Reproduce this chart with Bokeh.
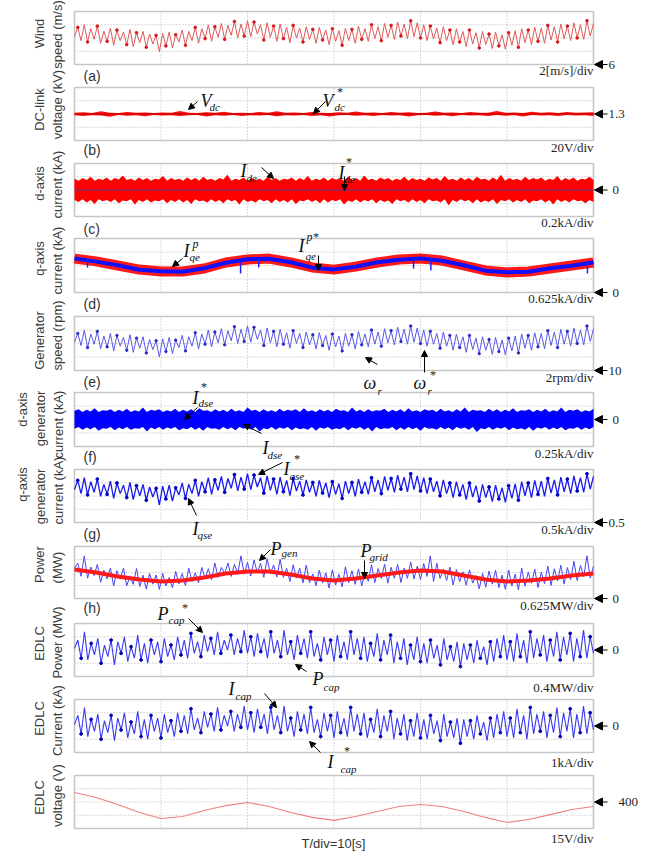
import math
import numpy as np
from bokeh.plotting import figure
from bokeh.models import Range1d, Label, Arrow, NormalHead
from bokeh.embed import file_html
from bokeh.resources import INLINE

# ---------------------------------------------------------------- data
T_END = 60.0  # s (T/div = 10 s, 6 divisions)

wind_speed = [10.2, 11.6, 9.6, 12.0, 9.4, 11.4, 9.8, 11.8, 9.2, 11.0, 9.5, 11.5, 8.9, 11.2, 9.6, 10.9, 9.0, 11.3, 8.7, 10.8, 9.3, 11.0, 8.6, 10.6, 9.1, 10.4, 7.9,
              10.7, 8.8, 10.9, 8.5, 10.5, 9.4, 11.2, 8.9, 11.0, 9.6, 11.6, 9.2, 11.4, 9.9, 12.0, 9.5, 11.7, 10.1, 12.2, 9.8, 11.9, 10.4, 12.5, 10.0, 12.1, 10.3, 12.6,
              10.2, 12.4, 10.6, 12.0, 9.7, 12.3, 10.1, 11.8, 9.5, 12.1, 9.9, 11.6, 9.3, 11.9, 10.0, 11.5, 9.4, 11.7, 9.8, 11.3, 9.2, 11.6, 9.7, 11.2, 9.0, 11.4, 9.5,
              11.1, 8.9, 11.5, 9.6, 11.3, 9.2, 11.8, 9.8, 11.4, 9.5, 12.0, 9.9, 11.7, 9.6, 12.2, 10.1, 11.9, 9.8, 12.4, 10.3, 12.1, 9.9, 12.6, 10.2, 12.3, 10.0,
              12.0, 9.6, 11.8, 9.9, 11.5, 9.3, 11.7, 9.6, 11.2, 9.0, 11.4, 9.4, 11.0, 8.7, 11.2, 9.1, 10.8, 8.5, 11.0, 9.0, 10.6, 8.4, 10.9, 8.8, 10.5, 8.3, 10.8,
              8.9, 11.1, 8.6, 11.4, 9.3, 11.2, 9.0, 11.6, 9.5, 11.5, 9.2, 11.9, 9.7, 11.7, 9.4, 12.1, 9.9, 11.8, 9.6, 12.3, 10.0, 12.0, 9.8, 12.6, 10.3, 12.2]

vdc_hi = [1.3018, 1.3026, 1.3016, 1.3040, 1.3019, 1.3015, 1.3032, 1.3018, 1.3024, 1.3016, 1.3021, 1.3017, 1.3044, 1.3018, 1.3015, 1.3027, 1.3019, 1.3033, 1.3016, 1.3020,
          1.3015, 1.3030, 1.3018, 1.3042, 1.3017, 1.3022, 1.3016, 1.3031, 1.3019, 1.3015, 1.3028, 1.3018, 1.3038, 1.3017, 1.3021, 1.3015, 1.3032, 1.3018, 1.3025, 1.3015,
          1.3020, 1.3036, 1.3017, 1.3023, 1.3016, 1.3030, 1.3019, 1.3017, 1.3046, 1.3018, 1.3022, 1.3015, 1.3033, 1.3019, 1.3026, 1.3016, 1.3031, 1.3018, 1.3023, 1.3028]
vdc_lo = [1.2982, 1.2971, 1.2983, 1.2977, 1.2960, 1.2984, 1.2974, 1.2982, 1.2965, 1.2984, 1.2978, 1.2983, 1.2970, 1.2981, 1.2985, 1.2962, 1.2982, 1.2975, 1.2984, 1.2968,
          1.2983, 1.2977, 1.2984, 1.2966, 1.2982, 1.2976, 1.2984, 1.2971, 1.2983, 1.2963, 1.2980, 1.2984, 1.2973, 1.2982, 1.2969, 1.2984, 1.2977, 1.2983, 1.2961, 1.2981,
          1.2984, 1.2972, 1.2982, 1.2967, 1.2984, 1.2978, 1.2983, 1.2970, 1.2984, 1.2975, 1.2982, 1.2964, 1.2984, 1.2977, 1.2981, 1.2969, 1.2984, 1.2976, 1.2983, 1.2971]
vdc_ref = 1.3

ide_hi = [0.17, 0.14, 0.18, 0.15, 0.20, 0.14, 0.17, 0.15, 0.19, 0.14, 0.18, 0.16, 0.22, 0.15, 0.17, 0.14, 0.19, 0.15, 0.18, 0.14, 0.17, 0.16, 0.21, 0.14, 0.18, 0.15, 0.17, 0.14, 0.19, 0.15,
          0.18, 0.14, 0.20, 0.15, 0.17, 0.14, 0.18, 0.16, 0.23, 0.14, 0.17, 0.15, 0.19, 0.14, 0.18, 0.15, 0.17, 0.14, 0.20, 0.15, 0.18, 0.14, 0.17, 0.16, 0.19, 0.14, 0.18, 0.15, 0.21, 0.14,
          0.17, 0.15, 0.19, 0.14, 0.18, 0.16, 0.17, 0.14, 0.20, 0.15, 0.18, 0.14, 0.22, 0.15, 0.17, 0.14, 0.19, 0.16, 0.18, 0.14, 0.17, 0.15, 0.20, 0.14, 0.18, 0.15, 0.17, 0.14, 0.19, 0.16,
          0.18, 0.14, 0.21, 0.15, 0.17, 0.14, 0.19, 0.15, 0.18, 0.14, 0.20, 0.16, 0.17, 0.14, 0.19, 0.15, 0.23, 0.14, 0.18, 0.15, 0.17, 0.14, 0.20, 0.15, 0.18, 0.16, 0.19, 0.14, 0.17, 0.15,
          0.21, 0.14, 0.18, 0.15, 0.19, 0.14, 0.17, 0.16, 0.20, 0.15]
ide_lo = [-0.15, -0.18, -0.14, -0.19, -0.15, -0.21, -0.14, -0.17, -0.15, -0.18, -0.14, -0.20, -0.16, -0.17, -0.14, -0.22, -0.15, -0.18, -0.14, -0.19, -0.16, -0.17, -0.14, -0.20, -0.15, -0.18, -0.14, -0.19, -0.15, -0.21,
          -0.14, -0.17, -0.16, -0.19, -0.14, -0.18, -0.15, -0.20, -0.14, -0.17, -0.15, -0.22, -0.14, -0.18, -0.16, -0.19, -0.14, -0.17, -0.15, -0.20, -0.14, -0.18, -0.15, -0.19, -0.14, -0.21, -0.16, -0.17, -0.14, -0.18,
          -0.15, -0.20, -0.14, -0.19, -0.15, -0.17, -0.14, -0.22, -0.16, -0.18, -0.14, -0.19, -0.15, -0.17, -0.14, -0.20, -0.15, -0.18, -0.16, -0.21, -0.14, -0.17, -0.15, -0.19, -0.14, -0.18, -0.15, -0.20, -0.14, -0.17,
          -0.16, -0.19, -0.14, -0.23, -0.15, -0.18, -0.14, -0.17, -0.15, -0.20, -0.14, -0.19, -0.16, -0.18, -0.14, -0.21, -0.15, -0.17, -0.14, -0.19, -0.15, -0.18, -0.14, -0.20, -0.16, -0.17, -0.14, -0.19, -0.15, -0.22,
          -0.14, -0.18, -0.15, -0.19, -0.14, -0.17, -0.16, -0.20, -0.15, -0.18]
ide_ref = 0.0

iqe_ref = [1.57, 1.44, 1.25, 1.06, 0.97, 0.97, 1.11, 1.39, 1.53, 1.57, 1.39, 1.16, 1.06, 1.20, 1.39, 1.53, 1.57, 1.48, 1.25, 1.02, 0.93, 0.97, 1.11, 1.25, 1.39]
iqe_meas = [1.58, 1.43, 1.26, 1.05, 0.98, 0.96, 1.12, 1.38, 1.54, 1.56, 1.40, 1.15, 1.07, 1.19, 1.40, 1.52, 1.58, 1.47, 1.26, 1.01, 0.94, 0.96, 1.12, 1.24, 1.40]
iqe_spike_t = [1.5, 19.2, 21.3, 39.2, 41.2, 59.3]
iqe_spike_top = [1.55, 1.39, 1.57, 1.48, 1.57, 1.36]
iqe_spike_bot = [1.16, 0.88, 1.16, 1.11, 1.02, 0.88]

gen_speed = [14.2, 15.5, 13.7, 16.0, 13.4, 15.4, 13.9, 15.8, 13.2, 15.1, 13.5, 15.5, 12.9, 15.2, 13.6, 14.9, 13.0, 15.3, 12.7, 14.8, 13.3, 15.0, 12.6, 14.6, 13.1, 14.4, 12.0,
             14.7, 12.8, 14.9, 12.5, 14.5, 13.4, 15.2, 12.9, 15.0, 13.6, 15.6, 13.2, 15.4, 13.9, 16.0, 13.5, 15.7, 14.1, 16.2, 13.8, 15.9, 14.4, 16.5, 14.0, 16.1, 14.3, 16.6,
             14.2, 16.4, 14.6, 16.0, 13.7, 16.3, 14.1, 15.8, 13.5, 16.1, 13.9, 15.6, 13.3, 15.9, 14.0, 15.5, 13.4, 15.7, 13.8, 15.3, 13.2, 15.6, 13.7, 15.2, 13.0, 15.4, 13.5,
             15.1, 12.9, 15.5, 13.6, 15.3, 13.2, 15.8, 13.8, 15.4, 13.5, 16.0, 13.9, 15.7, 13.6, 16.2, 14.1, 15.9, 13.8, 16.4, 14.3, 16.1, 13.9, 16.6, 14.2, 16.3, 14.0,
             16.0, 13.6, 15.8, 13.9, 15.5, 13.3, 15.7, 13.6, 15.2, 13.0, 15.4, 13.4, 15.0, 12.7, 15.2, 13.1, 14.8, 12.5, 15.0, 13.0, 14.6, 12.4, 14.9, 12.8, 14.5, 12.3, 14.8,
             12.9, 15.1, 12.6, 15.4, 13.3, 15.2, 13.0, 15.6, 13.5, 15.5, 13.2, 15.9, 13.7, 15.7, 13.4, 16.1, 13.9, 15.8, 13.6, 16.3, 14.0, 16.0, 13.8, 16.6, 14.3, 16.2]

idse_hi = [0.16, 0.19, 0.14, 0.18, 0.15, 0.21, 0.14, 0.17, 0.16, 0.19, 0.14, 0.18, 0.15, 0.20, 0.14, 0.17, 0.15, 0.22, 0.14, 0.18, 0.16, 0.19, 0.14, 0.17, 0.15, 0.20, 0.14, 0.18, 0.15, 0.19,
           0.14, 0.21, 0.16, 0.17, 0.14, 0.19, 0.15, 0.18, 0.14, 0.20, 0.15, 0.17, 0.14, 0.22, 0.16, 0.18, 0.14, 0.19, 0.15, 0.17, 0.14, 0.20, 0.15, 0.18, 0.16, 0.19, 0.14, 0.21, 0.15, 0.17,
           0.14, 0.19, 0.15, 0.18, 0.14, 0.20, 0.16, 0.17, 0.14, 0.22, 0.15, 0.18, 0.14, 0.19, 0.15, 0.17, 0.16, 0.20, 0.14, 0.18, 0.15, 0.19, 0.14, 0.21, 0.15, 0.17, 0.14, 0.19, 0.16, 0.18,
           0.14, 0.20, 0.15, 0.17, 0.14, 0.19, 0.15, 0.22, 0.14, 0.18, 0.16, 0.17, 0.14, 0.20, 0.15, 0.19, 0.14, 0.18, 0.15, 0.21, 0.14, 0.17, 0.16, 0.19, 0.14, 0.18, 0.15, 0.20, 0.14, 0.17,
           0.15, 0.22, 0.14, 0.18, 0.16, 0.19, 0.14, 0.17, 0.15, 0.20]
idse_lo = [-0.17, -0.14, -0.19, -0.15, -0.18, -0.14, -0.21, -0.16, -0.17, -0.14, -0.20, -0.15, -0.18, -0.14, -0.19, -0.16, -0.17, -0.14, -0.22, -0.15, -0.18, -0.14, -0.19, -0.15, -0.17, -0.14, -0.20, -0.16, -0.18, -0.14,
           -0.19, -0.15, -0.21, -0.14, -0.17, -0.16, -0.19, -0.14, -0.18, -0.15, -0.20, -0.14, -0.17, -0.15, -0.19, -0.14, -0.22, -0.16, -0.18, -0.14, -0.19, -0.15, -0.17, -0.14, -0.20, -0.15, -0.18, -0.16, -0.19, -0.14,
           -0.21, -0.15, -0.17, -0.14, -0.19, -0.16, -0.18, -0.14, -0.20, -0.15, -0.17, -0.14, -0.19, -0.15, -0.22, -0.14, -0.18, -0.16, -0.17, -0.14, -0.20, -0.15, -0.19, -0.14, -0.18, -0.15, -0.21, -0.14, -0.17, -0.16,
           -0.19, -0.14, -0.18, -0.15, -0.20, -0.14, -0.17, -0.15, -0.19, -0.14, -0.23, -0.16, -0.18, -0.14, -0.19, -0.15, -0.17, -0.14, -0.20, -0.15, -0.18, -0.16, -0.19, -0.14, -0.21, -0.15, -0.17, -0.14, -0.19, -0.15,
           -0.18, -0.14, -0.20, -0.16, -0.17, -0.14, -0.19, -0.15, -0.18, -0.14]

iqse = [1.74, 2.09, 1.59, 2.19, 1.54, 2.04, 1.64, 2.14, 1.49, 1.94, 1.56, 2.06, 1.41, 1.99, 1.59, 1.91, 1.44, 2.01, 1.36, 1.89, 1.51, 1.94, 1.34, 1.84, 1.46, 1.79, 1.16,
        1.87, 1.39, 1.91, 1.31, 1.81, 1.54, 1.99, 1.41, 1.94, 1.59, 2.09, 1.49, 2.04, 1.66, 2.19, 1.56, 2.11, 1.71, 2.24, 1.64, 2.16, 1.79, 2.31, 1.69, 2.21, 1.76, 2.34,
        1.74, 2.29, 1.84, 2.19, 1.61, 2.26, 1.71, 2.14, 1.56, 2.21, 1.66, 2.09, 1.51, 2.16, 1.69, 2.06, 1.54, 2.11, 1.64, 2.01, 1.49, 2.09, 1.61, 1.99, 1.44, 2.04, 1.56,
        1.96, 1.41, 2.06, 1.59, 2.01, 1.49, 2.14, 1.64, 2.04, 1.56, 2.19, 1.66, 2.11, 1.59, 2.24, 1.71, 2.16, 1.64, 2.29, 1.76, 2.21, 1.66, 2.34, 1.74, 2.26, 1.69,
        2.19, 1.59, 2.14, 1.66, 2.06, 1.51, 2.11, 1.59, 1.99, 1.44, 2.04, 1.54, 1.94, 1.36, 1.99, 1.46, 1.89, 1.31, 1.94, 1.44, 1.84, 1.29, 1.91, 1.39, 1.81, 1.26, 1.89,
        1.41, 1.96, 1.34, 2.04, 1.51, 1.99, 1.44, 2.09, 1.56, 2.06, 1.49, 2.16, 1.61, 2.11, 1.54, 2.21, 1.66, 2.14, 1.59, 2.26, 1.69, 2.19, 1.64, 2.34, 1.76, 2.24]

p_gen = [1.45, 1.70, 1.07, 2.05, 0.98, 1.51, 1.10, 1.64, 0.78, 1.36, 0.94, 1.46, 0.60, 1.34, 0.93, 1.46, 0.61, 1.09, 0.68, 1.44, 0.58, 1.12, 0.45, 1.20, 0.69, 1.13, 0.44,
         1.21, 0.61, 1.01, 0.52, 1.30, 0.70, 1.20, 0.61, 1.46, 0.82, 1.23, 0.75, 1.49, 0.95, 1.43, 0.90, 1.71, 1.02, 1.49, 1.19, 1.71, 1.06, 1.64, 1.20, 2.05, 1.17, 1.74,
         1.08, 1.85, 1.24, 1.69, 1.02, 1.91, 1.19, 1.61, 1.03, 1.88, 1.02, 1.45, 0.82, 1.62, 0.98, 1.45, 0.75, 1.61, 0.76, 1.18, 0.61, 1.36, 0.74, 1.23, 0.50, 1.38, 0.65,
         1.16, 0.56, 1.52, 0.76, 1.33, 0.68, 1.42, 0.61, 1.24, 0.83, 1.62, 0.76, 1.44, 0.96, 1.65, 0.74, 1.50, 0.97, 1.64, 0.77, 1.46, 0.97, 1.76, 0.94, 1.56, 0.91,
         1.68, 1.06, 2.05, 0.82, 1.70, 0.97, 1.40, 0.87, 1.51, 0.65, 1.39, 0.81, 1.28, 0.64, 1.38, 0.74, 1.10, 0.46, 1.21, 0.54, 1.32, 0.69, 1.36, 0.52, 1.12, 0.44, 1.37,
         0.61, 1.17, 0.41, 1.47, 0.59, 1.27, 0.73, 1.41, 0.53, 1.26, 0.72, 1.56, 0.63, 1.43, 0.85, 1.60, 0.69, 1.49, 0.91, 1.79, 0.86, 1.59, 1.05, 2.05, 0.98, 1.55]
p_grid = [1.39, 1.25, 1.06, 0.91, 0.82, 0.87, 1.01, 1.20, 1.30, 1.30, 1.15, 0.96, 0.87, 0.96, 1.11, 1.25, 1.35, 1.30, 1.11, 0.91, 0.82, 0.87, 0.96, 1.11, 1.20]

p_cap = [0.05, 0.30, -0.25, 0.55, -0.30, 0.20, -0.15, 0.35, -0.40, 0.15, -0.20, 0.30, -0.45, 0.25, -0.10, 0.40, -0.35, 0.10, -0.25, 0.45, -0.30, 0.20, -0.40, 0.30, -0.15, 0.25, -0.35,
         0.35, -0.20, 0.15, -0.30, 0.40, -0.15, 0.30, -0.25, 0.50, -0.10, 0.25, -0.20, 0.45, -0.05, 0.35, -0.15, 0.55, -0.10, 0.30, 0.00, 0.45, -0.15, 0.35, -0.05, 0.60, -0.10,
         0.40, -0.20, 0.50, -0.05, 0.35, -0.25, 0.55, -0.10, 0.30, -0.20, 0.60, -0.15, 0.25, -0.30, 0.45, -0.10, 0.35, -0.25, 0.55, -0.20, 0.20, -0.30, 0.40, -0.15, 0.30,
         -0.35, 0.45, -0.20, 0.25, -0.30, 0.55, -0.15, 0.35, -0.25, 0.40, -0.35, 0.20, -0.20, 0.50, -0.30, 0.30, -0.15, 0.45, -0.40, 0.25, -0.25, 0.35, -0.45, 0.15, -0.30, 0.40,
         -0.35, 0.20, -0.40, 0.30, -0.25, 0.15, -0.45, 0.35, -0.30, 0.10, -0.35, 0.25, -0.50, 0.20, -0.30, 0.15, -0.40, 0.30, -0.25, 0.10, -0.45, 0.25, -0.35, 0.35, -0.20, 0.45, -0.30,
         0.25, -0.35, 0.50, -0.20, 0.30, -0.40, 0.55, -0.25, 0.35, -0.15, 0.45, -0.35, 0.30, -0.20, 0.55, -0.30, 0.40, -0.15, 0.50, -0.35, 0.35, -0.20, 0.60, -0.25, 0.40, -0.10]

i_cap = [0.1, 0.8, -0.6, 1.4, -0.8, 0.5, -0.4, 0.9, -1.0, 0.4, -0.5, 0.8, -1.1, 0.6, -0.3, 1.0, -0.9, 0.3, -0.6, 1.1, -0.8, 0.5, -1.0, 0.8, -0.4, 0.6, -0.9,
         0.9, -0.5, 0.4, -0.8, 1.0, -0.4, 0.8, -0.6, 1.3, -0.3, 0.6, -0.5, 1.1, -0.1, 0.9, -0.4, 1.4, -0.3, 0.8, 0.0, 1.1, -0.4, 0.9, -0.1, 1.5, -0.3,
         1.0, -0.5, 1.3, -0.1, 0.9, -0.6, 1.4, -0.3, 0.8, -0.5, 1.5, -0.4, 0.6, -0.8, 1.1, -0.3, 0.9, -0.6, 1.4, -0.5, 0.5, -0.8, 1.0, -0.4, 0.8,
         -0.9, 1.1, -0.5, 0.6, -0.8, 1.4, -0.4, 0.9, -0.6, 1.0, -0.9, 0.5, -0.5, 1.3, -0.8, 0.8, -0.4, 1.1, -1.0, 0.6, -0.6, 0.9, -1.1, 0.4, -0.8, 1.0,
         -0.9, 0.5, -1.0, 0.8, -0.6, 0.4, -1.1, 0.9, -0.8, 0.3, -0.9, 0.6, -1.3, 0.5, -0.8, 0.4, -1.0, 0.8, -0.6, 0.3, -1.1, 0.6, -0.9, 0.9, -0.5, 1.1, -0.8,
         0.6, -0.9, 1.3, -0.5, 0.8, -1.0, 1.4, -0.6, 0.9, -0.4, 1.1, -0.9, 0.8, -0.5, 1.4, -0.8, 1.0, -0.4, 1.3, -0.9, 0.9, -0.5, 1.5, -0.6, 1.0, -0.3]

v_cap = [410.8, 405.1, 397.2, 388.1, 381.3, 383.6, 390.4, 396.0, 399.4, 394.9, 388.1, 382.5, 379.1, 383.6, 389.2, 394.9, 397.2, 394.9, 389.2, 382.5, 376.8, 380.2, 385.8, 391.5, 394.9]

panel_key = ["a", "b", "c", "d", "e", "f", "g", "h", "i", "j", "k"]
panel_lo = [6, 1.26, -0.4, 0, 10, -0.5, 0.5, 0, -0.8, -2, 370]
panel_div = [2, 0.02, 0.2, 0.625, 2, 0.25, 0.5, 0.625, 0.4, 1, 15]
marker_val = [6, 1.3, 0, 0, 10, 0, 0.5, 0, 0, 0, 400]
marker_txt = ["6", "1.3", "0", "0", "10", "0", "0.5", "0", "0", "0", "400"]
scale_txt = ["2[m/s]/div", "20V/div", "0.2kA/div", "0.625kA/div", "2rpm/div", "0.25kA/div",
             "0.5kA/div", "0.625MW/div", "0.4MW/div", "1kA/div", "15V/div"]
letter_txt = ["(a)", "(b)", "(c)", "(d)", "(e)", "(f)", "(g)", "(h)", "", "", ""]
ylabel_lines = [["Wind", "speed (m/s)"], ["DC-link", "voltage (kV)"], ["d-axis", "current (kA)"],
                ["q-axis", "current (kA)"], ["Generator", "speed (rpm)"],
                ["d-axis", "generator", "current (kA)"], ["q-axis", "generator", "current (kA)"],
                ["Power", "(MW)"], ["EDLC", "Power (MW)"], ["EDLC", "Current (kA)"], ["EDLC", "voltage (V)"]]
time_txt = "T/div=10[s]"

# ---------------------------------------------------------------- layout (screen px)
W, H = 660, 854
FX0, FX1 = 74, 593            # plotting area of every panel, horizontally
panel_top = [11, 87, 163, 238, 316, 392, 469, 546, 623, 699, 775]
panel_bot = [64, 140, 216, 292, 370, 446, 522, 598, 676, 752, 828]
ylabel_y = [[33, 34], [109, 104], [183, 184], [258, 260], [340, 335], [409, 418, 424],
            [484, 496, 490], [564, 567], [643, 642], [718, 720], [797, 795]]
ylabel_x2 = [39, 57]
ylabel_x3 = [22, 40, 58]
letter_dy = [11, 9, 12, 11, 11, 10, 11, 9, 0, 0, 0]
scale_dy = [6, 7, 6, 6, 7, 7, 7, 7, 11, 10, 10]
marker_txt_x = [608, 608, 612, 612, 608, 612, 608, 612, 612, 612, 618]

SERIF = "Liberation Serif"
SANS = "Liberation Sans"
TXT = "#1e1e1e"

# the whole canvas is the frame: default ranges are screen pixels (y downwards)
p = figure(width=W, height=H, x_range=Range1d(0, W), y_range=Range1d(H, 0),
           output_backend="svg", toolbar_location=None,
           x_axis_location=None, y_axis_location=None, min_border=0,
           outline_line_color=None, background_fill_color="white", border_fill_color="white")
p.grid.visible = False
sx = T_END / (FX1 - FX0)
p.extra_x_ranges = {"t": Range1d(-FX0 * sx, T_END + (W - FX1) * sx)}


def txt(x, y, s, size=13, font=SANS, style="normal", align="left", baseline="middle",
        angle=0.0, color=TXT, yr="default"):
    p.add_layout(Label(x=x, y=y, y_range_name=yr, text=s,
                       text_font=font, text_font_size=f"{size}px", text_font_style=style,
                       text_align=align, text_baseline=baseline, angle=angle, text_color=color))


def arrow(x0, y0, x1, y1, yr="default", size=6):
    p.add_layout(Arrow(x_start=x0, y_start=y0, x_end=x1, y_end=y1, y_range_name=yr,
                       line_color="black", line_width=1,
                       end=NormalHead(size=size, fill_color="black", line_color="black", line_width=1)))


for i, key in enumerate(panel_key):
    lo = panel_lo[i]
    dv = panel_div[i]
    hi = lo + 4 * dv
    T, B = panel_top[i], panel_bot[i]
    upp = (hi - lo) / (B - T)
    p.extra_y_ranges[key] = Range1d(lo - (H - B) * upp, hi + T * upp)
    p.multi_line(xs=[[10 * k, 10 * k] for k in range(1, 6)], ys=[[lo, hi]] * 5,
                 x_range_name="t", y_range_name=key,
                 line_color="#b4b4b4", line_width=1, line_dash="1 2")
    p.multi_line(xs=[[0, T_END]] * 3, ys=[[lo + k * dv] * 2 for k in range(1, 4)],
                 x_range_name="t", y_range_name=key,
                 line_color="#b4b4b4", line_width=1, line_dash="1 2")
    p.quad(left=0, right=T_END, bottom=lo, top=hi, x_range_name="t", y_range_name=key,
           fill_color=None, line_color="#c6c6c6", line_width=1.6)
    lines = ylabel_lines[i]
    xs = ylabel_x2 if len(lines) == 2 else ylabel_x3
    for s, xx, yy in zip(lines, xs, ylabel_y[i]):
        txt(xx, yy, s, size=13, align="center", baseline="middle", angle=math.pi / 2, color="#3a3a3a")
    if letter_txt[i]:
        txt(83, B + letter_dy[i], letter_txt[i], size=14, color="#333333")
    txt(FX1, B + scale_dy[i], scale_txt[i], size=13, font=SERIF, align="right")
    arrow(607, marker_val[i], 594, marker_val[i], yr=key, size=8)
    txt(marker_txt_x[i], marker_val[i], marker_txt[i], size=13, font=SERIF, yr=key)

txt(333, 843, time_txt, size=13, align="center", color="#333333")


def tt(arr):
    return np.linspace(0, T_END, len(arr))


kw = dict(x_range_name="t")
# (a) wind speed
p.line(tt(wind_speed), wind_speed, y_range_name="a", line_color="#e05a5a", line_width=1, **kw)
p.scatter(tt(wind_speed)[1::3], wind_speed[1::3], y_range_name="a", size=2.6, color="#d81818", **kw)
# (b) DC-link voltage
p.varea(x=tt(vdc_hi), y1=vdc_lo, y2=vdc_hi, y_range_name="b", fill_color="#ff1010", **kw)
p.line([0, T_END], [vdc_ref, vdc_ref], y_range_name="b", line_color="#d00000", line_width=1.5, **kw)
# (c) d-axis current
p.varea(x=tt(ide_hi), y1=ide_lo, y2=ide_hi, y_range_name="c", fill_color="#ff0000", **kw)
p.line([0, T_END], [ide_ref, ide_ref], y_range_name="c", line_color="#503c9c", line_width=1.2, **kw)
# (d) q-axis current
p.line(tt(iqe_ref), iqe_ref, y_range_name="d", line_color="#ff1a1a", line_width=10, **kw)
p.line(tt(iqe_meas), iqe_meas, y_range_name="d", line_color="#1010ff", line_width=4, **kw)
p.segment(x0=iqe_spike_t, y0=iqe_spike_top, x1=iqe_spike_t, y1=iqe_spike_bot, y_range_name="d",
          line_color="#2020ff", line_width=1.5, **kw)
# (e) generator speed
p.line(tt(gen_speed), gen_speed, y_range_name="e", line_color="#5a5ae6", line_width=1, **kw)
p.scatter(tt(gen_speed)[1::3], gen_speed[1::3], y_range_name="e", size=2.4, color="#2a2ac8", **kw)
# (f) d-axis generator current
p.varea(x=tt(idse_hi), y1=idse_lo, y2=idse_hi, y_range_name="f", fill_color="#0000ff", **kw)
# (g) q-axis generator current
p.line(tt(iqse), iqse, y_range_name="g", line_color="#1a1aee", line_width=1.3, **kw)
p.scatter(tt(iqse)[1::3], iqse[1::3], y_range_name="g", size=2.8, color="#0000c0", **kw)
# (h) power
p.line(tt(p_gen), p_gen, y_range_name="h", line_color="#4646f0", line_width=1, **kw)
p.line(tt(p_grid), p_grid, y_range_name="h", line_color="#ff1a1a", line_width=4, **kw)
# (i) EDLC power
p.line(tt(p_cap), p_cap, y_range_name="i", line_color="#3a3aef", line_width=1.1, **kw)
p.scatter(tt(p_cap)[2::3], p_cap[2::3], y_range_name="i", size=2.8, color="#0000b0", **kw)
# (j) EDLC current
p.line(tt(i_cap), i_cap, y_range_name="j", line_color="#3a3aef", line_width=1.1, **kw)
p.scatter(tt(i_cap)[2::3], i_cap[2::3], y_range_name="j", size=2.8, color="#0000b0", **kw)
# (k) EDLC voltage
p.line(tt(v_cap), v_cap, y_range_name="k", line_color="#f08080", line_width=1.2, **kw)

# symbol annotations: main, x, baseline, sub, sub_x, sub_y, sup, sup_x, sup_y  (screen px)
symbols = [
    ("V", 200, 100, "dc", 209, 106, "", 0, 0),
    ("V", 322, 100, "dc", 334, 106, "*", 336, 91),
    ("I", 240, 170, "de", 246, 177, "", 0, 0),
    ("I", 338, 172, "de", 344, 178, "*", 345, 161),
    ("I", 183, 250, "qe", 189, 256, "p", 192, 243),
    ("I", 298, 245, "qe", 305, 255, "p*", 306, 236),
    ("\u03c9", 363, 382, "r", 377, 390, "", 0, 0),
    ("\u03c9", 413, 382, "r", 427, 390, "*", 429, 374),
    ("I", 192, 397, "dse", 198, 402, "*", 200, 386),
    ("I", 262, 447, "dse", 267, 454, "", 0, 0),
    ("I", 283, 468, "qse", 289, 475, "*", 293, 458),
    ("I", 192, 528, "qse", 197, 534, "", 0, 0),
    ("P", 270, 548, "gen", 281, 552, "", 0, 0),
    ("P", 360, 550, "grid", 369, 556, "", 0, 0),
    ("P", 157, 613, "cap", 168, 619, "*", 181, 607),
    ("P", 312, 678, "cap", 323, 686, "", 0, 0),
    ("I", 228, 688, "cap", 235, 695, "", 0, 0),
    ("I", 327, 761, "cap", 340, 768, "*", 343, 750),
]
for m, x, y, sb, sbx, sby, sp, spx, spy in symbols:
    txt(x, y, m, size=18, font=SERIF, style="italic", baseline="alphabetic", color="#111111")
    if sb:
        txt(sbx, sby, sb, size=11, font=SERIF, style="italic", baseline="alphabetic", color="#111111")
    if sp:
        txt(spx, spy, sp, size=12, font=SERIF, style="italic", baseline="alphabetic", color="#111111")

arrows = [(197, 101, 188, 109), (325, 101, 313, 113), (261, 167, 273, 178), (344, 176, 344, 190),
          (182, 258, 172, 266), (318, 255, 318, 270), (377, 364, 365, 357), (424, 372, 424, 350),
          (197, 407, 184, 419), (261, 433, 243, 424), (282, 462, 258, 474), (196, 515, 188, 498),
          (270, 549, 259, 560), (364, 560, 364, 578), (188, 618, 202, 632), (306, 671, 295, 664),
          (264, 693, 276, 707), (320, 752, 309, 741)]
for a in arrows:
    arrow(*a, size=6)

open("out.html", "w").write(file_html(p, INLINE))
